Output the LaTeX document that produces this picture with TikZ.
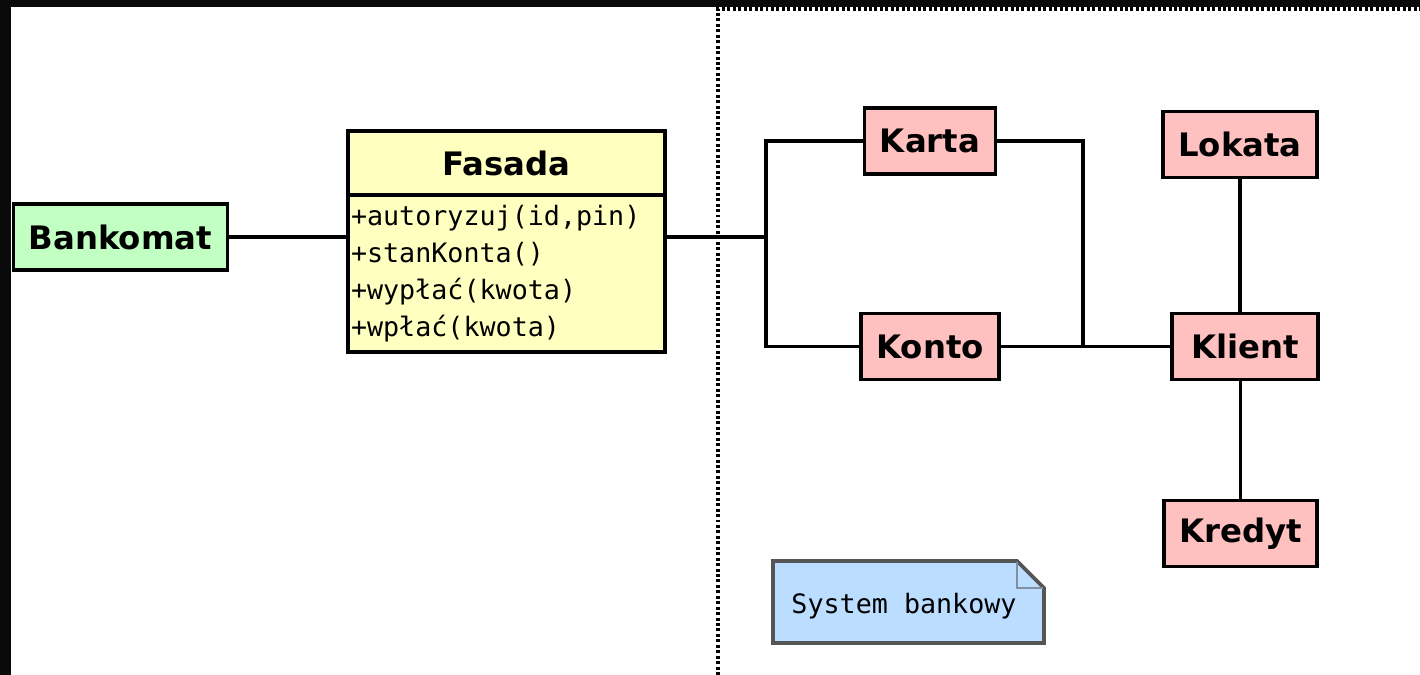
\documentclass[tikz,border=0pt]{standalone}
\usepackage{fontspec}
\setmainfont{DejaVu Sans}
\setmonofont{DejaVu Sans Mono}
\usetikzlibrary{positioning}
\definecolor{boxgreen}{RGB}{194,255,194}
\definecolor{boxyellow}{RGB}{255,255,192}
\definecolor{boxpink}{RGB}{255,192,192}
\definecolor{noteblue}{RGB}{187,221,255}
\definecolor{notegray}{RGB}{85,85,85}
\definecolor{foldgray}{RGB}{128,144,160}
\tikzset{
  entity/.style={draw, line width=2.1pt, fill=boxpink, inner xsep=8.8pt,
    minimum height=37.5pt, font=\fontsize{18.4}{22}\selectfont\bfseries},
  conn/.style={line width=2pt},
  granica/.style={line width=2pt, dash pattern=on 1.7pt off 1.4pt},
  notebox/.style={draw=notegray, line width=2.1pt, fill=noteblue},
  foldline/.style={draw=foldgray, line width=1.3pt},
}

\begin{document}
\begin{tikzpicture}[x=0.02cm, y=-0.02cm]
  \fill[black!96] (0,0) rectangle (1420,675);
  \fill[white] (11,7) rectangle (1420,675);
  \useasboundingbox (0,0) rectangle (1420,675);
  \draw[granica] (718,675) -- (718,9) -- (1420,9);

  \node[entity, fill=boxgreen] (bankomat) at (120.5,237) {Bankomat};
  \node[entity, fill=boxyellow, minimum width=180.8pt, minimum height=36.3pt,
    inner sep=0pt] (fasada) at (506.5,163) {Fasada};
  \node[draw, line width=2.1pt, fill=boxyellow, minimum width=180.8pt,
    minimum height=89.6pt, text width=177pt, inner sep=1pt, align=left,
    font=\fontsize{15.2}{21}\selectfont\ttfamily, below=-2.1pt of fasada] (metody)
    {+autoryzuj(id,pin)\\+stanKonta()\\+wypłać(kwota)\\+wpłać(kwota)};

  \node[entity] (karta) at (930,141) {Karta};
  \node[entity] (konto) at (930,346.5) {Konto};
  \node[entity] (lokata) at (1240,144.5) {Lokata};
  \node[entity, minimum width=82.8pt] (klient) at (1245,346.5) {Klient};
  \node[entity] (kredyt) at (1240.5,533.5) {Kredyt};

  % notatka
  \draw[notebox] (773,561) -- (1017,561) -- (1044,588) -- (1044,643) -- (773,643) -- cycle;
  \draw[foldline] (1017,562) -- (1017,588) -- (1043,588);
  \node[font=\fontsize{15.2}{18}\selectfont\ttfamily] (notka) at (904,606) {System bankowy};

  \coordinate (rozgal) at (766,237);
  \coordinate (zbieg) at (1083,346.5);
  \draw[conn] (bankomat) -- (bankomat -| metody.west);
  \draw[conn] (bankomat -| metody.east) -- (rozgal);
  \draw[conn] (karta) -| (rozgal) |- (konto);
  \draw[conn] (karta) -| (zbieg);
  \draw[conn] (konto) -- (klient);
  \draw[conn] (lokata) -- (lokata |- klient.north);
  \draw[conn] (klient.south -| kredyt) -- (kredyt);
\end{tikzpicture}
\end{document}
